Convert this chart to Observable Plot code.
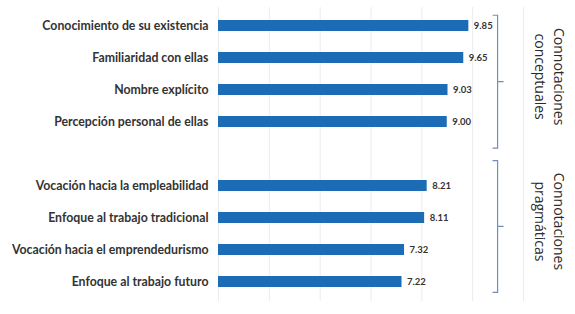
<!DOCTYPE html>
<html>
<head>
<meta charset="utf-8">
<script src="https://cdn.jsdelivr.net/npm/d3@7"></script>
<script src="https://cdn.jsdelivr.net/npm/@observablehq/plot@0.6"></script>
<style>
  html, body { margin: 0; padding: 0; background: #fff; }
  #chart { width: 575px; height: 314px; }
</style>
</head>
<body>
<div id="chart"></div>
<script>
// ---- data ----
const categories = [
  "Conocimiento de su existencia",
  "Familiaridad con ellas",
  "Nombre explícito",
  "Percepción personal de ellas",
  "Vocación hacia la empleabilidad",
  "Enfoque al trabajo tradicional",
  "Vocación hacia el emprendedurismo",
  "Enfoque al trabajo futuro"
];
const values = [9.85, 9.65, 9.03, 9.00, 8.21, 8.11, 7.32, 7.22];
const valueLabels = ["9.85", "9.65", "9.03", "9.00", "8.21", "8.11", "7.32", "7.22"];
const groupNames = [["Connotaciones", "conceptuales"], ["Connotaciones", "pragmáticas"]];
const groupSizes = [4, 4];
const xTicks = [0, 2, 4, 6, 8, 10, 12];

// ---- build ----
const spacer = " ";
const yDomain = [...categories.slice(0, groupSizes[0]), spacer, ...categories.slice(groupSizes[0])];
const rows = categories.map((c, i) => ({cat: c, value: values[i], label: valueLabels[i]}));

const barColor = "#1c6bb5";
const labelFont = "Lato, 'DejaVu Sans', sans-serif";

const plot = Plot.plot({
  width: 575,
  height: 314,
  marginLeft: 218,
  marginRight: 52,
  marginTop: 7,
  marginBottom: 13,
  x: {domain: [0, 12], axis: null},
  y: {domain: yDomain, axis: null, paddingInner: 0.65, paddingOuter: 0.325},
  style: {fontFamily: labelFont, background: "#fff"},
  marks: [
    Plot.ruleX(xTicks, {stroke: "#ececec", strokeWidth: 1}),
    Plot.barX(rows, {y: "cat", x: "value", fill: barColor}),
    Plot.text(rows, {y: "cat", x: 0, text: "cat", textAnchor: "end", dx: -10,
      fill: "#333", fontSize: 12.3, fontWeight: "bold"}),
    Plot.text(rows, {y: "cat", x: "value", text: "label", textAnchor: "start", dx: 5,
      fill: "#333", fontSize: 9.5, fontWeight: "bold"})
  ]
});

document.getElementById("chart").appendChild(plot);

// ---- group brackets & labels (positioned from the plot's scales) ----
const ys = plot.scale("y");
const xs = plot.scale("x");
const step = ys.step;
const svg = d3.select(plot);
const g = svg.append("g");
let start = 0;
groupSizes.forEach((n, gi) => {
  const first = categories[start];
  const last = categories[start + n - 1];
  const yFirst = ys.apply(first) + ys.bandwidth / 2;
  const yLast = ys.apply(last) + ys.bandwidth / 2;
  // extend more toward the gap between groups
  const top = yFirst - (gi === 0 ? 0.32 : 0.78) * step;
  const bot = yLast + (gi === 0 ? 0.83 : 0.34) * step;
  const mid = (top + bot) / 2;
  const bx = xs.apply(11);
  g.append("path")
    .attr("d", `M${bx - 5},${top}H${bx}V${bot}H${bx - 5}M${bx},${mid}H${bx + 6}`)
    .attr("fill", "none")
    .attr("stroke", "#6f8fb8")
    .attr("stroke-width", 1.2);
  const lx = xs.apply(13);
  const t = g.append("text")
    .attr("transform", `translate(${lx + 1},${mid - 5}) rotate(90)`)
    .attr("text-anchor", "middle")
    .attr("fill", "#2b2b2b")
    .attr("font-family", "'Open Sans', 'Noto Sans', sans-serif")
    .attr("font-size", 14);
  t.append("tspan").attr("x", 0).attr("dy", "-0.35em").text(groupNames[gi][0]);
  t.append("tspan").attr("x", 0).attr("dy", "1.4em").text(groupNames[gi][1]);
  start += n;
});
</script>
</body>
</html>
